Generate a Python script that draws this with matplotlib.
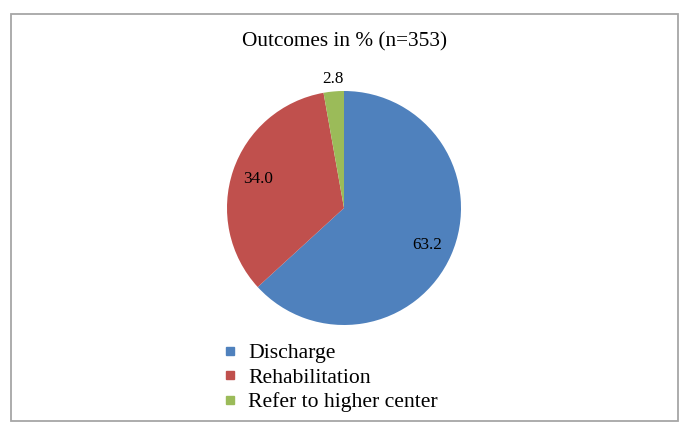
import numpy as np
import matplotlib
matplotlib.use('Agg')
import matplotlib.pyplot as plt
from matplotlib.lines import Line2D
from matplotlib.patches import Rectangle

plt.rcParams['font.family'] = ['Liberation Serif', 'DejaVu Serif']

# 数据
labels = ['Discharge', 'Rehabilitation', 'Refer to higher center']
values = [63.2, 34.0, 2.8]
colors = ['#4F81BD', '#C0504D', '#9BBB59']
title = 'Outcomes in % (n=353)'

W, H = 688, 436
fig = plt.figure(figsize=(W / 100, H / 100), dpi=100)

# 外框
fig.patches.append(Rectangle((11 / W, 1 - 421 / H), 667 / W, 407 / H,
                             transform=fig.transFigure, fill=False,
                             edgecolor='#A6A6A6', linewidth=1.3))

fig.text(344 / W, 1 - 42 / H, title, ha='center', va='center', fontsize=15.3)

# 饼图区域
r = 117
ax = fig.add_axes([(344 - r) / W, 1 - (208 + r) / H, 2 * r / W, 2 * r / H])
wedges, texts, autotexts = ax.pie(values, colors=colors, startangle=90,
                                  counterclock=False, autopct='%.1f',
                                  pctdistance=0.78,
                                  textprops={'fontsize': 12.3})
ax.set_xlim(-1, 1)
ax.set_ylim(-1, 1)
ax.set_aspect('equal')
ax.axis('off')

# 小扇区标签放到外面
w = wedges[2]
ang = np.deg2rad((w.theta1 + w.theta2) / 2)
autotexts[2].set_position((1.11 * np.cos(ang), 1.11 * np.sin(ang)))
for t in autotexts:
    t.set_clip_on(False)

# 图例
handles = [Line2D([], [], marker='s', linestyle='none', markersize=6,
                  markerfacecolor=c, markeredgecolor=c) for c in colors]
fig.legend(handles, labels, loc='upper left',
           bbox_to_anchor=(222 / W, 1 - 343 / H), frameon=False,
           fontsize=15.6, handlelength=0.7, handletextpad=0.5,
           labelspacing=0.2, borderpad=0, borderaxespad=0)

fig.savefig('out.png', dpi=100)
